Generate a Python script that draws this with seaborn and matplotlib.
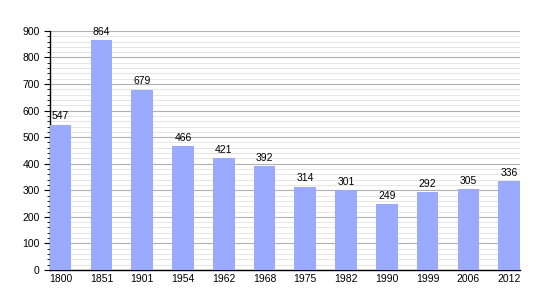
import matplotlib
matplotlib.use("Agg")
import matplotlib.pyplot as plt
import seaborn as sns
import pandas as pd
from matplotlib.ticker import MultipleLocator

years = ["1800", "1851", "1901", "1954", "1962", "1968", "1975", "1982", "1990", "1999", "2006", "2012"]
population = [547, 864, 679, 466, 421, 392, 314, 301, 249, 292, 305, 336]

df = pd.DataFrame({"year": years, "pop": population})

sns.set_style("white")
plt.rcParams['font.family'] = ['Liberation Sans', 'DejaVu Sans']
plt.rcParams['text.color'] = 'black'
plt.rcParams['xtick.color'] = 'black'
plt.rcParams['ytick.color'] = 'black'

fig = plt.figure(figsize=(5.5, 3), dpi=100)
ax = fig.add_axes([0.091, 0.1, 0.854, 0.797])

sns.barplot(data=df, x="year", y="pop", color="#99aaff", saturation=1, width=0.53,
            linewidth=0, edgecolor="none", ax=ax, zorder=3)

ax.set_xlim(-0.26, 11.26)
ax.set_ylim(0, 900)
ax.yaxis.set_major_locator(MultipleLocator(100))
ax.yaxis.set_minor_locator(MultipleLocator(20))
ax.grid(which="major", axis="y", color="#b0b0b0", linewidth=0.8, zorder=0)
ax.grid(which="minor", axis="y", color="#e2e2e2", linewidth=0.6, zorder=0)
ax.set_axisbelow(True)

for s in ["top", "right"]:
    ax.spines[s].set_visible(False)
for s in ["left", "bottom"]:
    ax.spines[s].set_color("black")
    ax.spines[s].set_linewidth(1.0)

ax.tick_params(axis="y", which="major", length=4, width=0.8, color="black", labelsize=7.5,
               labelcolor="black", direction="out", left=True)
ax.tick_params(axis="y", which="minor", length=2, width=0.6, color="black", left=True)
ax.tick_params(axis="x", length=0, labelsize=7.5, labelcolor="black", pad=3)
ax.set_xlabel("")
ax.set_ylabel("")

for i, v in enumerate(population):
    ax.text(i, v + 12, str(v), ha="center", va="bottom", fontsize=7.5, color="black", zorder=4)

fig.savefig("out.png", dpi=100)
